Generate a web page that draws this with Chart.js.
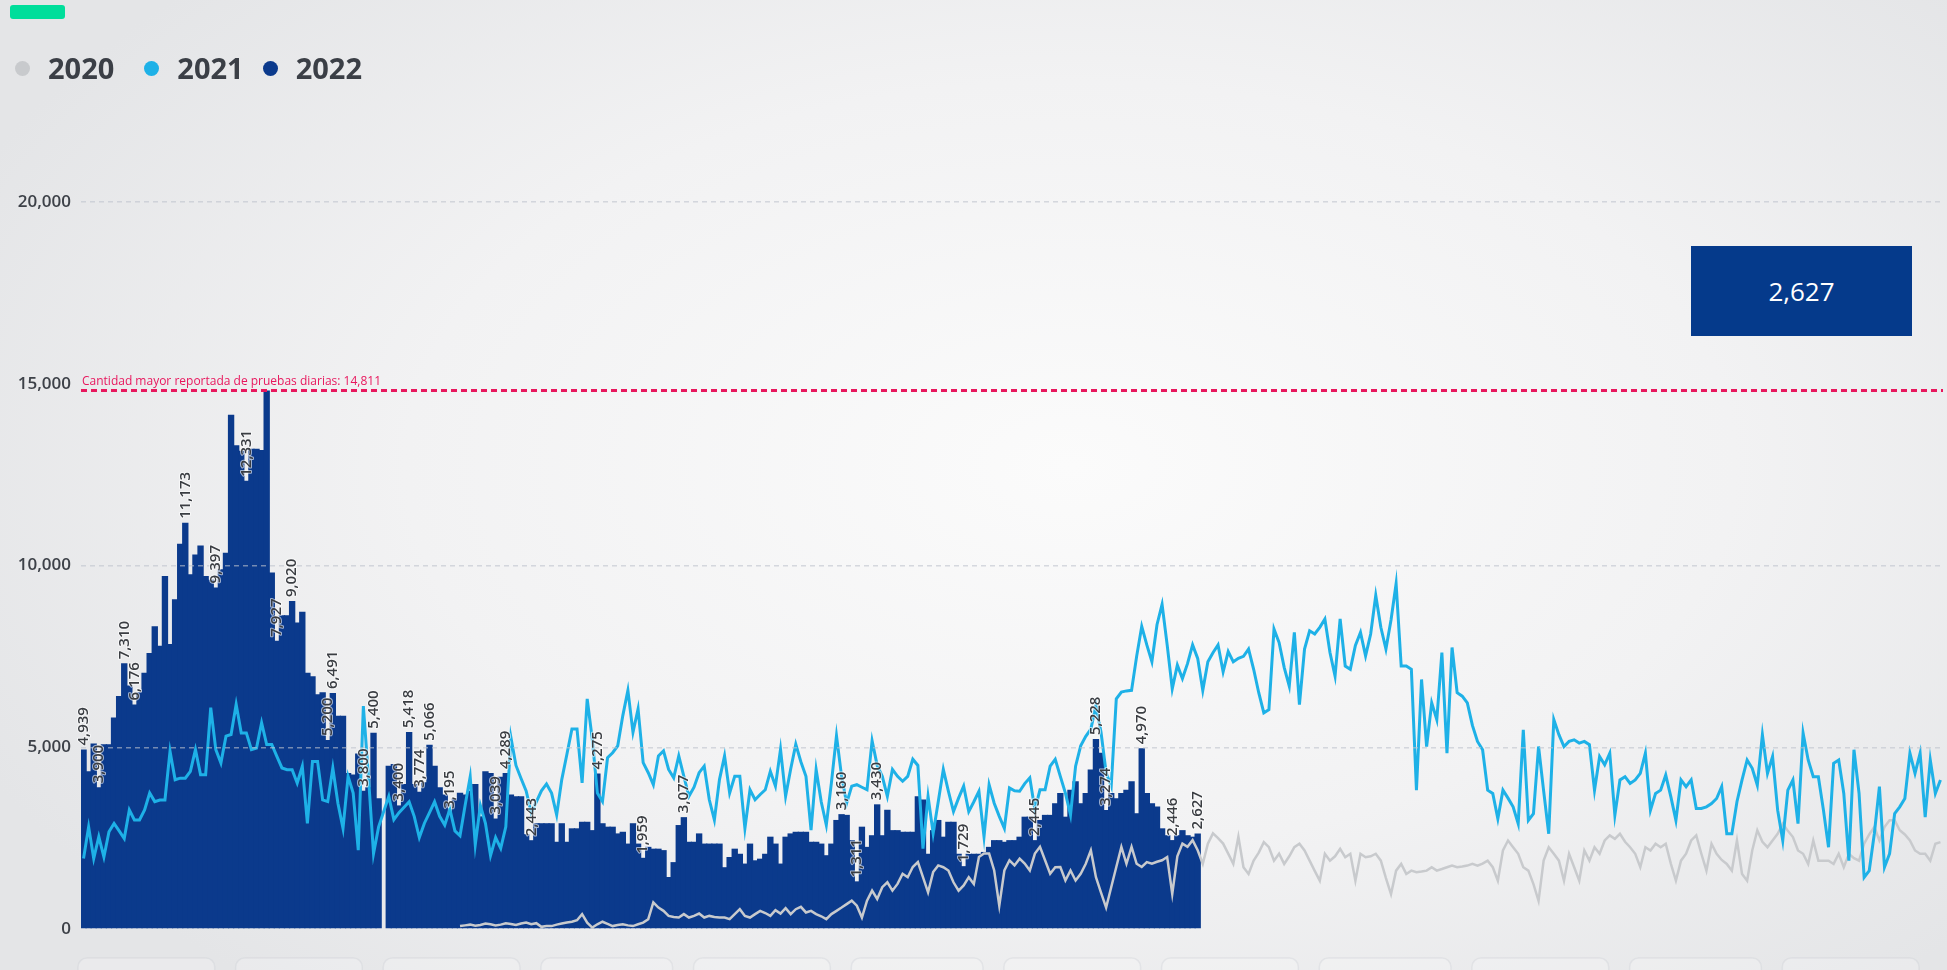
<!DOCTYPE html>
<html lang="es">
<head>
<meta charset="utf-8">
<title>Pruebas diarias 2020 - 2022</title>
<script src="https://cdn.jsdelivr.net/npm/chart.js@4.4.1/dist/chart.umd.min.js"></script>
<style>
  html, body { margin: 0; padding: 0; }
  body {
    width: 1947px; height: 970px; overflow: hidden; position: relative;
    background: radial-gradient(ellipse 62% 72% at 55% 48%, #fbfbfb 0%, #f2f2f3 55%, #e4e5e7 100%);
    font-family: 'Open Sans', sans-serif;
  }
  #barra-verde { position: absolute; left: 10px; top: 5px; width: 55px; height: 14px; background: #00de9b; border-radius: 3px; }
  #leyenda { position: absolute; left: 15px; top: 49px; display: flex; align-items: center; height: 38px; }
  .item { display: flex; align-items: center; margin-right: 30px; }
  .item + .item { margin-right: 19px; }
  .punto { width: 15px; height: 15px; border-radius: 50%; margin-right: 18px; }
  .texto { font-size: 29px; font-weight: 700; color: #3b3f46; line-height: 38px; }
  #caja {
    position: absolute; left: 1691px; top: 246px; width: 221px; height: 90px;
    background: #053a8b; color: #fff; font-size: 26px;
    display: flex; align-items: center; justify-content: center;
  }
  #grafica { position: absolute; left: 0; top: 0; }
</style>
</head>
<body>
<div id="barra-verde"></div>
<canvas id="grafica" width="1947" height="970"></canvas>
<div id="leyenda"></div>
<div id="caja"></div>
<script>
// Categorias: dias del año (año bisiesto, 366 dias)
const meses = ['ene', 'feb', 'mar', 'abr', 'may', 'jun', 'jul', 'ago', 'sep', 'oct', 'nov', 'dic'];
const diasMes = [31, 29, 31, 30, 31, 30, 31, 31, 30, 31, 30, 31];

// Pruebas diarias 2022 (barras), 29 feb sin dato
const valores2022 = [
  4939, 4340, 5100, 3900, 5080, 5080, 5820, 6410, 7310, 6700,
  6176, 6510, 7050, 7590, 8330, 7790, 9710, 7840, 9070, 10600,
  11173, 9760, 10300, 10550, 9710, 9610, 9397, 9900, 10350, 14150,
  13310, 13160, 12331, 13210, 13210, 13180, 14811, 9810, 7927, 8630,
  8630, 9020, 8430, 8730, 7050, 6950, 6460, 6510, 5200, 6491,
  5870, 5870, 4290, 4250, 4830, 3800, 3900, 5400, 3600, null,
  4490, 4540, 3400, 3990, 5418, 3990, 3774, 4040, 5066, 4490,
  3900, 3700, 3195, 3600, 3750, 3700, 3800, 3990, 3100, 4340,
  4290, 3039, 4190, 4289, 3700, 3650, 3650, 2610, 2443, 2910,
  2910, 2910, 2910, 2400, 2910, 2400, 2770, 2770, 2950, 2950,
  2720, 4275, 2910, 2815, 2815, 2630, 2675, 2350, 2910, 2350,
  1959, 2260, 2210, 2210, 2170, 1430, 1840, 2860, 3077, 2400,
  2400, 2630, 2350, 2350, 2350, 2350, 1700, 1980, 2210, 2070,
  1800, 2350, 1890, 1935, 2070, 2540, 2350, 1800, 2540, 2630,
  2675, 2675, 2675, 2400, 2400, 2350, 2030, 2350, 3000, 3160,
  3140, 2445, 1311, 2815, 2260, 2580, 3430, 2580, 3280, 2720,
  2720, 2675, 2675, 2675, 3650, 3560, 2070, 2720, 3000, 2540,
  2950, 2950, 2070, 1729, 2070, 2070, 2070, 2120, 2260, 2445,
  2445, 2400, 2445, 2445, 2540, 3090, 3090, 2445, 3000, 3140,
  3140, 3460, 3740, 3090, 3830, 4065, 3460, 3740, 4390, 5228,
  4850, 3274, 3740, 3600, 3740, 3830, 4065, 3185, 4970, 3740,
  3460, 3370, 2770, 2580, 2446, 2580, 2720, 2580, 2540, 2627
];

// Barras con etiqueta de valor
const indicesEtiquetas = [0, 3, 8, 10, 20, 26, 32, 38, 41, 48, 49, 55, 57, 62, 64, 66, 68, 72, 81, 83, 88,
  101, 110, 118, 149, 152, 156, 173, 187, 199, 201, 208, 214, 219];

// Pruebas diarias 2021 (linea)
const valores2021 = [
  1940, 2810, 1940, 2540, 1980, 2675, 2905, 2700, 2490, 3275,
  3000, 3000, 3275, 3740, 3505, 3550, 3550, 4890, 4105, 4150,
  4150, 4335, 4935, 4245, 4245, 6090, 4935, 4565, 5305, 5350,
  6180, 5395, 5395, 4935, 4980, 5675, 5075, 5075, 4750, 4430,
  4380, 4380, 4015, 4475, 2905, 4610, 4610, 3550, 3505, 4430,
  3460, 2770, 4200, 3740, 2170, 6135, 4200, 2075, 2810,
  null,
  3650, 3010, 3200, 3350, 3500, 3100, 2515, 2910, 3200, 3500,
  3100, 2860, 3300, 2700, 2565, 3400, 4190, 2320, 3400, 2910,
  2020, 2515, 2220, 2810, 5275, 4500, 4140, 3800, 3200, 3500,
  3800, 3990, 3740, 3140, 4110,
  4800, 5500, 5500, 4020, 6330, 5220, 3740, 3510, 4710, 4850,
  5040, 5870, 6565, 5410, 6055, 4575, 4300, 3970, 4760, 4900,
  4390, 4160, 4760, 4200, 3650, 3900, 4300, 4480, 3555, 3000,
  4110, 4760, 3740, 4200, 4200, 2770, 3830, 3555, 3700, 3830,
  4340, 3930, 4945,
  3650, 4400, 5080, 4600, 4200, 2720, 4390, 3500, 2860, 4020,
  5315, 4200, 3460, 3930, 3970, 3900, 3830, 5180, 4500, 4200,
  3650, 4390, 4200, 4065, 4200, 4670, 4500, 2210, 3650, 2630,
  3500, 4390, 3790, 3230, 3600, 3930, 3230, 3500, 3790, 2540,
  3970, 3460, 3100, 2770, 3880, 3800, 3790, 4000, 4160, 3280,
  3830,
  3830, 4480, 4670, 4200, 3740, 3140, 4480, 5040, 5300, 5500,
  6150, 5410, 4300, 3930, 6330, 6520, 6550, 6565, 7500, 8325,
  7815, 7350, 8370, 8930, 7815, 6610, 7260, 6890, 7300, 7815,
  7445, 6565, 7350, 7600, 7815, 7075, 7630, 7350, 7445,
  7500, 7700, 7145, 6500, 5945, 6035, 8250, 7880, 7200, 6680,
  8160, 6175, 7700, 8205, 8115, 8300, 8530, 7605, 6960, 8530,
  7235, 7145, 7800, 8160, 7515, 8115, 9175, 8300, 7700, 8500,
  9500, 7235, 7235, 7145, 3820, 6865, 5020, 6220, 5760, 7605,
  4835, 7745, 6500, 6405, 6220, 5600, 5160, 4930, 3820, 3730,
  3035, 3820, 3600, 3360, 2900, 5480, 2990, 3175, 5020, 3800,
  2620, 5760, 5345,
  5020, 5160, 5205, 5115, 5160, 5070, 3820, 4745, 4515, 4835,
  3130, 4100, 4190, 4005, 4100, 4280, 4835, 3270, 3730, 3820,
  4235, 3640, 2990, 4100, 3915, 4100, 3315, 3315, 3360, 3450,
  3590, 3915, 2620, 2620, 3500, 4100, 4650, 4420, 3960, 5345,
  4280, 4745, 3270, 2435, 3820, 4100, 2900, 5390, 4650, 4190,
  4190, 3270, 2250, 4560, 4650, 3730, 1880, 4930, 3730, 1420,
  1605, 2620, 3915, 1700, 2070, 3175, 3360, 3590, 4835, 4280,
  4835, 3080, 4650, 3730, 4100
];

// Pruebas diarias 2020 (linea), empieza el dia 75 del año
const inicio2020 = 74;
const valores2020 = [
  80, 100, 120, 90, 110, 150, 130, 100, 120, 160, 140, 110, 150, 180, 130, 160,
  60, 80, 80, 120, 150, 180, 200, 240, 410, 175,
  40, 130, 200, 140, 80, 110, 130, 100, 80, 130,
  175, 270, 730, 590, 500, 360, 330, 315, 410, 315,
  360, 425, 315, 360, 330, 315, 315, 270, 410, 545,
  360, 315, 410, 500, 440, 360, 520, 425, 575, 410,
  545, 610,
  455, 500, 410, 350, 270, 410, 500, 590, 685, 780,
  640, 315, 780, 1055, 825, 1150, 1285, 1055, 1240, 1520,
  1425, 1705, 1840, 1425, 1010, 1565, 1750, 1700, 1610, 1285,
  1055, 1200, 1425, 1240, 1980, 2075, 2075, 1610, 640, 1610,
  1890, 1750, 1935, 1800, 1610, 2075, 2260,
  1890, 1520, 1700, 1705, 1335, 1610, 1335, 1520, 1795, 2165,
  1425, 1000, 590, 1150, 1705, 2260, 1795, 2260, 1795, 1705,
  1840, 1795, 1850, 1890, 1980, 965, 2000, 2350, 2260, 2445,
  2165, 1795, 2350, 2630, 2500, 2350, 2075, 1795, 2540,
  1700, 1515, 1880, 2100, 2390, 2250, 1880, 2070, 1790, 2000,
  2250, 2345, 2160, 1880, 1600, 1330, 2070, 1880, 2000, 2205,
  1975, 2070, 1330, 2070, 1975, 2000, 2070, 1880, 1400, 960,
  1605, 1790, 1515, 1605, 1560, 1580, 1605, 1700, 1605, 1650,
  1700, 1745, 1700, 1720, 1745, 1790, 1745, 1800, 1880, 1700,
  1330, 2160, 2435, 2250, 2070, 1700, 1605, 1235, 775, 1880,
  2250, 2070, 1880,
  1330, 2070, 1700, 1330, 2160, 1880, 2250, 2070, 2435, 2575,
  2480, 2620, 2400, 2250, 2070, 1700, 2250, 2160, 2345, 2250,
  2345, 1800, 1330, 1880, 2070, 2435, 2575, 2070, 1605, 2345,
  2070, 1900, 1790, 1605, 2435, 1515, 1330, 2160, 2715, 2400,
  2250, 2435, 2620, 2900, 2700, 2530, 2160, 2070, 1790, 2435,
  1880, 1880, 1880, 1790, 2070, 1700, 2070, 1950, 1880, 2345,
  2600, 2805, 2435, 2805, 2990, 2990, 2715, 2600, 2435, 2160,
  2070, 2070, 1880, 2345, 2390
];

// Ticks del eje Y
const ticksY = [0, 5000, 10000, 15000, 20000];

// Etiquetas de los dias
const etiquetasDias = [];
const inicioMes = [];
diasMes.forEach((n, m) => {
  inicioMes.push(etiquetasDias.length);
  for (let d = 1; d <= n; d++) etiquetasDias.push(d + ' ' + meses[m]);
});

const serie2020 = Array(inicio2020).fill(null).concat(valores2020);

const colores = { '2020': '#c8cacd', '2021': '#1eb1e7', '2022': '#0b3a8c' };
const fmt = v => v.toLocaleString('en-US');

// Pestañas de los meses (cortadas abajo)
const pestanasMes = {
  id: 'pestanasMes',
  beforeDraw(chart) {
    const c = chart.ctx;
    const x = chart.scales.x;
    const paso = x.getPixelForValue(1) - x.getPixelForValue(0);
    c.save();
    inicioMes.forEach((ini, m) => {
      const izq = x.getPixelForValue(ini) - paso / 2 - 3;
      const der = x.getPixelForValue(ini + diasMes[m] - 1) + paso / 2 - 24;
      c.beginPath();
      c.roundRect(izq, 958, der - izq, 40, 9);
      c.fillStyle = 'rgba(255,255,255,0.22)';
      c.fill();
      c.strokeStyle = 'rgba(200,202,208,0.3)';
      c.lineWidth = 1.5;
      c.stroke();
    });
    c.restore();
  }
};

// Linea roja del maximo reportado
const lineaMaxima = {
  id: 'lineaMaxima',
  afterDraw(chart) {
    const { ctx: c, chartArea: a, scales: { y } } = chart;
    const maximo = Math.max(...valores2022.filter(v => v !== null));
    const py = y.getPixelForValue(maximo);
    c.save();
    c.strokeStyle = '#e8175d';
    c.lineWidth = 3;
    c.setLineDash([6, 4]);
    c.beginPath();
    c.moveTo(a.left, py);
    c.lineTo(a.right, py);
    c.stroke();
    c.setLineDash([]);
    c.fillStyle = '#e8175d';
    c.font = '12px "Open Sans"';
    c.textBaseline = 'bottom';
    c.fillText('Cantidad mayor reportada de pruebas diarias: ' + fmt(maximo), a.left + 1, py - 3);
    c.restore();
  }
};

// Etiquetas verticales sobre algunas barras
const etiquetasBarras = {
  id: 'etiquetasBarras',
  afterDraw(chart) {
    const meta = chart.getDatasetMeta(2);
    const c = chart.ctx;
    c.save();
    c.font = '600 15px "Open Sans"';
    c.textAlign = 'left';
    c.textBaseline = 'middle';
    c.lineJoin = 'round';
    indicesEtiquetas.forEach(i => {
      const barra = meta.data[i];
      const texto = fmt(valores2022[i]);
      c.save();
      c.translate(barra.x, barra.y - 4);
      c.rotate(-Math.PI / 2);
      c.strokeStyle = 'rgba(255,255,255,0.6)';
      c.lineWidth = 2;
      c.strokeText(texto, 0, 0);
      c.fillStyle = '#3a3d42';
      c.fillText(texto, 0, 0);
      c.restore();
    });
    c.restore();
  }
};

const ctx = document.getElementById('grafica').getContext('2d');
const grafica = new Chart(ctx, {
  type: 'bar',
  data: {
    labels: etiquetasDias,
    datasets: [
      {
        type: 'line', label: '2020', data: serie2020,
        borderColor: colores['2020'], borderWidth: 2.5,
        pointRadius: 0, tension: 0, order: 1
      },
      {
        type: 'line', label: '2021', data: valores2021,
        borderColor: colores['2021'], borderWidth: 3,
        pointRadius: 0, tension: 0, spanGaps: true, order: 0
      },
      {
        type: 'bar', label: '2022', data: valores2022,
        backgroundColor: colores['2022'], borderWidth: 0,
        barPercentage: 1.25, categoryPercentage: 1, order: 2
      }
    ]
  },
  options: {
    responsive: false,
    animation: false,
    layout: { padding: { top: 202, right: 4, bottom: 41, left: 0 } },
    plugins: { legend: { display: false }, tooltip: { enabled: false } },
    scales: {
      x: { display: false },
      y: {
        min: 0, max: 20000,
        afterBuildTicks: s => { s.ticks = ticksY.map(v => ({ value: v })); },
        afterFit: s => { s.width = 81; },
        ticks: {
          padding: 10,
          color: '#3d4148',
          font: { family: 'Open Sans', size: 17, weight: '600' },
          callback: v => fmt(v)
        },
        grid: {
          z: 1,
          drawTicks: false,
          lineWidth: 1.5,
          color: c => (c.tick && (c.tick.value === 0 || c.tick.value === 15000)) ? 'rgba(0,0,0,0)' : 'rgba(190,195,205,0.6)'
        },
        border: { display: false, dash: [5, 4] }
      }
    }
  },
  plugins: [pestanasMes, lineaMaxima, etiquetasBarras]
});

// Leyenda
const leyenda = document.getElementById('leyenda');
['2020', '2021', '2022'].forEach(anio => {
  const item = document.createElement('div');
  item.className = 'item';
  item.innerHTML = '<span class="punto" style="background:' + colores[anio] + '"></span><span class="texto">' + anio + '</span>';
  leyenda.appendChild(item);
});

// Ultimo valor reportado
const ultimos = valores2022.filter(v => v !== null);
document.getElementById('caja').textContent = fmt(ultimos[ultimos.length - 1]);
</script>
</body>
</html>
